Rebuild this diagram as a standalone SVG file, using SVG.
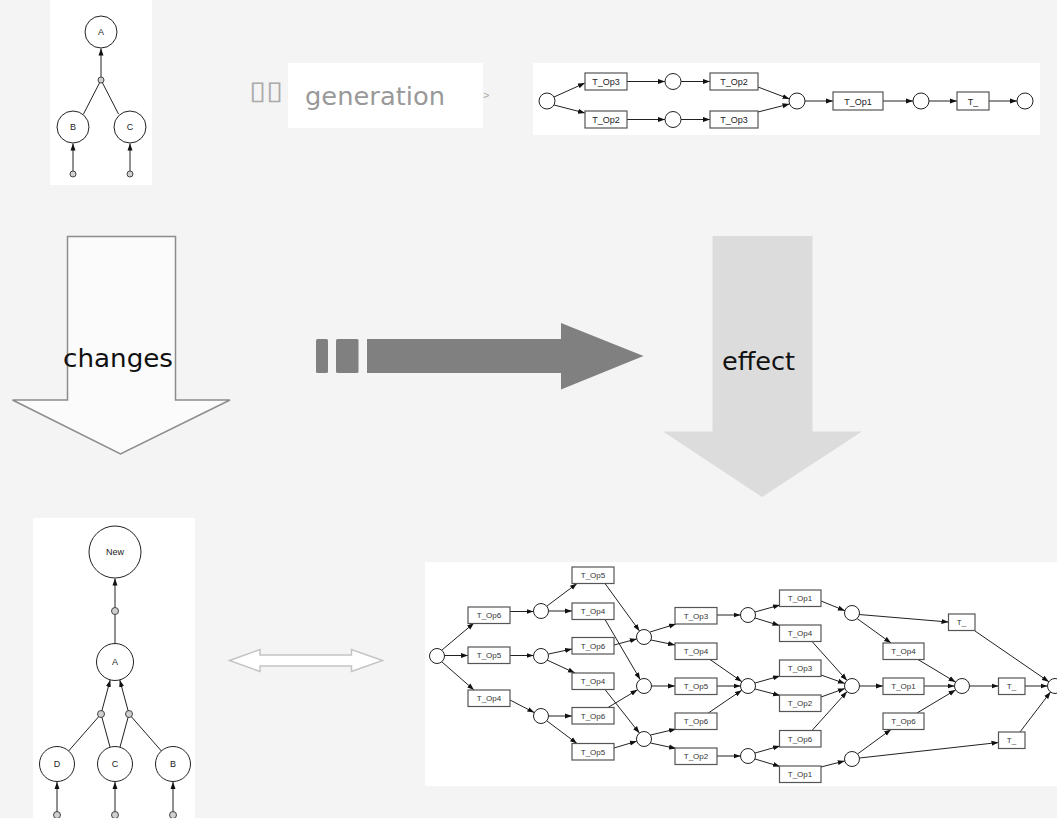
<svg xmlns="http://www.w3.org/2000/svg" width="1057" height="818" viewBox="0 0 1057 818">
<style>
.bg{fill:#f4f4f4}
.panel{fill:#ffffff}
.e{stroke:#222;stroke-width:1;fill:none}
.ea{stroke:#222;stroke-width:1;fill:none;marker-end:url(#ah)}
.pl{fill:#fff;stroke:#222;stroke-width:1}
.sm{fill:#d0d0d0;stroke:#333;stroke-width:0.9}
.tr{fill:#fff;stroke:#555;stroke-width:1.2}
.t9{font-family:"Liberation Sans",Arial,sans-serif;font-size:9px;fill:#222;text-anchor:middle}
.t8{font-family:"Liberation Sans",Arial,sans-serif;font-size:8px;fill:#333;text-anchor:middle}
.big{font-family:"DejaVu Sans",Verdana,sans-serif;font-size:24px;fill:#111}
</style>
<defs>
<marker id="ah" markerWidth="7" markerHeight="6" refX="7" refY="3" orient="auto" markerUnits="userSpaceOnUse"><path d="M0,0.5 L7,3 L0,5.5 z" fill="#111"/></marker>
</defs>
<rect class="bg" x="0" y="0" width="1057" height="818"/>

<!-- panels -->
<rect class="panel" x="50" y="0" width="102" height="185"/>
<rect class="panel" x="288" y="63" width="195" height="65"/>
<rect class="panel" x="533" y="63" width="507" height="72"/>
<rect class="panel" x="33" y="518" width="162" height="300"/>
<rect class="panel" x="425" y="562" width="632" height="224"/>

<!-- big arrows -->
<g id="changes">
<path d="M67.5,236.5 H175.5 V400 H230 L120.5,454 L12.5,400 H67.5 Z" fill="#fbfbfb" stroke="#8c8c8c" stroke-width="1.5"/>
<text class="big" x="63" y="367" textLength="110" lengthAdjust="spacingAndGlyphs">changes</text>
</g>
<g id="effect">
<path d="M712.5,236 H812.5 V431.5 H862 L762,497 L663,431.5 H712.5 Z" fill="#dcdcdc"/>
<text class="big" x="722" y="370" textLength="73" lengthAdjust="spacingAndGlyphs">effect</text>
</g>
<g id="dark-arrow" fill="#808080">
<rect x="316" y="339" width="12" height="34" rx="1.5"/>
<rect x="336" y="339" width="22.5" height="34" rx="1.5"/>
<path d="M367,339 H561 V323 L643.5,356 L561,389.5 V373 H367 Z"/>
</g>
<g id="double-arrow">
<path d="M229.5,660.5 L260,649.5 V655 H351.5 V649.5 L382.5,660.5 L351.5,671.5 V666 H260 V671.5 Z" fill="#fff" stroke="#c4c4c4" stroke-width="1.5"/>
</g>

<!-- generation label -->
<g id="generation">
<text x="249" y="99" font-family="'DejaVu Sans',sans-serif" font-size="26" fill="#aaaaaa" textLength="34" lengthAdjust="spacingAndGlyphs">▯▯</text>
<text x="305" y="105" font-family="'DejaVu Sans',Verdana,sans-serif" font-size="24" fill="#999999" textLength="140" lengthAdjust="spacingAndGlyphs">generation</text>
<text x="483" y="99" font-family="'Liberation Sans',Arial,sans-serif" font-size="11" fill="#aaaaaa">&gt;</text>
</g>

<!-- connectors -->
<g id="connectors">
<!-- top tree -->
<line class="ea" x1="101" y1="77" x2="101" y2="48.5"/>
<line class="e" x1="101" y1="80" x2="83.5" y2="114"/>
<line class="e" x1="101" y1="80" x2="118.5" y2="114"/>
<line class="ea" x1="73" y1="171" x2="73" y2="143.5"/>
<line class="ea" x1="130" y1="171" x2="130" y2="143.5"/>
<!-- top net -->
<line class="ea" x1="554" y1="97" x2="585" y2="83"/>
<line class="ea" x1="554" y1="105" x2="585" y2="113"/>
<line class="ea" x1="627" y1="81.5" x2="665" y2="81.5"/>
<line class="ea" x1="681" y1="81.5" x2="710" y2="81.5"/>
<line class="ea" x1="627" y1="119.5" x2="665" y2="119.5"/>
<line class="ea" x1="681" y1="119.5" x2="710" y2="119.5"/>
<line class="ea" x1="758" y1="87" x2="789.5" y2="99"/>
<line class="ea" x1="758" y1="112" x2="789.5" y2="104"/>
<line class="ea" x1="805" y1="101" x2="833" y2="101"/>
<line class="ea" x1="883" y1="101" x2="913" y2="101"/>
<line class="ea" x1="929" y1="101" x2="957" y2="101"/>
<line class="ea" x1="989" y1="101" x2="1017" y2="101"/>
<!-- bottom tree -->
<line class="ea" x1="115" y1="643.5" x2="115" y2="578.5"/>
<line class="ea" x1="101" y1="714" x2="110.2" y2="680"/>
<line class="ea" x1="129" y1="714" x2="119.8" y2="680"/>
<line class="e" x1="68.6" y1="751" x2="101" y2="714"/>
<line class="e" x1="110" y1="747" x2="101" y2="714"/>
<line class="e" x1="120" y1="747" x2="129" y2="714"/>
<line class="e" x1="161.4" y1="751" x2="129" y2="714"/>
<line class="ea" x1="57" y1="812" x2="57" y2="782"/>
<line class="ea" x1="115" y1="812" x2="115" y2="782"/>
<line class="ea" x1="173" y1="812" x2="173" y2="782"/>
<!-- bottom net -->
<line class="ea" x1="442" y1="650" x2="474" y2="623"/>
<line class="ea" x1="444.5" y1="655.5" x2="468" y2="655.5"/>
<line class="ea" x1="442" y1="662" x2="474" y2="690"/>
<line class="ea" x1="510" y1="611.5" x2="533.5" y2="611.5"/>
<line class="ea" x1="510" y1="655.5" x2="533.5" y2="655.5"/>
<line class="ea" x1="510" y1="700" x2="534.3" y2="712.6"/>
<line class="ea" x1="547" y1="606" x2="577" y2="583.5"/>
<line class="ea" x1="548.5" y1="611" x2="572" y2="611"/>
<line class="ea" x1="548.5" y1="654" x2="572" y2="649"/>
<line class="ea" x1="547" y1="660" x2="575" y2="673"/>
<line class="ea" x1="548.5" y1="716" x2="572" y2="716"/>
<line class="ea" x1="547" y1="721" x2="577" y2="743.5"/>
<line class="ea" x1="605" y1="583.5" x2="639.5" y2="631"/>
<line class="ea" x1="605" y1="619.5" x2="640.2" y2="679.5"/>
<line class="ea" x1="614" y1="645" x2="636.8" y2="638.9"/>
<line class="ea" x1="605" y1="689.5" x2="639.4" y2="733.1"/>
<line class="ea" x1="608" y1="707.5" x2="637.5" y2="689.8"/>
<line class="ea" x1="614" y1="748" x2="636.8" y2="741.2"/>
<line class="ea" x1="650" y1="632" x2="676" y2="624"/>
<line class="ea" x1="651" y1="640" x2="675" y2="645"/>
<line class="ea" x1="651.5" y1="686" x2="675" y2="686"/>
<line class="ea" x1="650.5" y1="735" x2="676" y2="729"/>
<line class="ea" x1="650.5" y1="743" x2="676" y2="748.5"/>
<line class="ea" x1="717" y1="615" x2="740.5" y2="615"/>
<line class="ea" x1="710" y1="659.5" x2="741.9" y2="681.7"/>
<line class="ea" x1="717" y1="686" x2="740.5" y2="686"/>
<line class="ea" x1="708.3" y1="713" x2="741.8" y2="690.2"/>
<line class="ea" x1="717" y1="756" x2="740.5" y2="756"/>
<line class="ea" x1="755" y1="612" x2="780" y2="605"/>
<line class="ea" x1="755" y1="618" x2="779.5" y2="625.5"/>
<line class="ea" x1="755" y1="683" x2="780" y2="676"/>
<line class="ea" x1="755" y1="689" x2="780" y2="695.5"/>
<line class="ea" x1="755" y1="753" x2="780" y2="746"/>
<line class="ea" x1="755" y1="759" x2="780" y2="766.5"/>
<line class="ea" x1="821" y1="601" x2="844.9" y2="610.7"/>
<line class="ea" x1="812" y1="641.5" x2="847" y2="680.5"/>
<line class="ea" x1="821" y1="675" x2="844.9" y2="683.5"/>
<line class="ea" x1="821" y1="697" x2="844.9" y2="688.5"/>
<line class="ea" x1="812" y1="730.5" x2="847" y2="691.6"/>
<line class="ea" x1="821" y1="767" x2="844.7" y2="760.9"/>
<line class="ea" x1="859" y1="614.5" x2="948.5" y2="622"/>
<line class="ea" x1="857" y1="618.5" x2="891" y2="643"/>
<line class="ea" x1="859.5" y1="686" x2="883" y2="686"/>
<line class="ea" x1="857.5" y1="754" x2="891" y2="729.5"/>
<line class="ea" x1="859.5" y1="758" x2="998.5" y2="742.5"/>
<line class="ea" x1="918" y1="659.5" x2="955.6" y2="682.1"/>
<line class="ea" x1="924" y1="686" x2="954.5" y2="686"/>
<line class="ea" x1="917" y1="713" x2="955.6" y2="689.9"/>
<line class="ea" x1="969.5" y1="686" x2="998.5" y2="686"/>
<line class="ea" x1="975" y1="631" x2="1048.8" y2="681.7"/>
<line class="ea" x1="1025" y1="686" x2="1047.5" y2="686"/>
<line class="ea" x1="1020" y1="732" x2="1050.5" y2="692"/>
</g>

<!-- top tree nodes -->
<g id="t1-A"><circle class="pl" cx="101" cy="32" r="16"/><text class="t9" x="101" y="35">A</text></g>
<g id="t1-j"><circle class="sm" cx="101" cy="80" r="3"/></g>
<g id="t1-B"><circle class="pl" cx="73" cy="127" r="16"/><text class="t9" x="73" y="130">B</text></g>
<g id="t1-C"><circle class="pl" cx="130" cy="127" r="16"/><text class="t9" x="130" y="130">C</text></g>
<g id="t1-b1"><circle class="sm" cx="73" cy="174" r="3"/></g>
<g id="t1-b2"><circle class="sm" cx="130" cy="174" r="3"/></g>

<!-- top net nodes -->
<g id="n1-p0"><circle class="pl" cx="547" cy="101" r="8"/></g>
<g id="n1-t1"><rect class="tr" x="585" y="73" width="42" height="17"/><text class="t9" x="606" y="85">T_Op3</text></g>
<g id="n1-t2"><rect class="tr" x="585" y="111" width="42" height="17"/><text class="t9" x="606" y="123">T_Op2</text></g>
<g id="n1-p1"><circle class="pl" cx="673" cy="81.5" r="8"/></g>
<g id="n1-p2"><circle class="pl" cx="673" cy="119.5" r="8"/></g>
<g id="n1-t3"><rect class="tr" x="710" y="73" width="48" height="17"/><text class="t9" x="734" y="85">T_Op2</text></g>
<g id="n1-t4"><rect class="tr" x="710" y="111" width="48" height="17"/><text class="t9" x="734" y="123">T_Op3</text></g>
<g id="n1-p3"><circle class="pl" cx="797" cy="101" r="8"/></g>
<g id="n1-t5"><rect class="tr" x="833" y="92" width="50" height="18"/><text class="t9" x="858" y="104.5">T_Op1</text></g>
<g id="n1-p4"><circle class="pl" cx="921" cy="101" r="8"/></g>
<g id="n1-t6"><rect class="tr" x="957" y="92" width="32" height="18"/><text class="t9" x="973" y="104.5">T_</text></g>
<g id="n1-p5"><circle class="pl" cx="1025" cy="101" r="8"/></g>

<!-- bottom tree nodes -->
<g id="t2-New"><circle class="pl" cx="115" cy="552" r="26"/><text class="t9" x="115" y="555">New</text></g>
<g id="t2-j0"><circle class="sm" cx="115" cy="611" r="3.5"/></g>
<g id="t2-A"><circle class="pl" cx="115" cy="662" r="18.5"/><text class="t9" x="115" y="665">A</text></g>
<g id="t2-j1"><circle class="sm" cx="101" cy="714" r="3.5"/></g>
<g id="t2-j2"><circle class="sm" cx="129" cy="714" r="3.5"/></g>
<g id="t2-D"><circle class="pl" cx="57" cy="764" r="17.5"/><text class="t9" x="57" y="767">D</text></g>
<g id="t2-C"><circle class="pl" cx="115" cy="764" r="17.5"/><text class="t9" x="115" y="767">C</text></g>
<g id="t2-B"><circle class="pl" cx="173" cy="764" r="17.5"/><text class="t9" x="173" y="767">B</text></g>
<g id="t2-b1"><circle class="sm" cx="57" cy="815" r="3.5"/></g>
<g id="t2-b2"><circle class="sm" cx="115" cy="815" r="3.5"/></g>
<g id="t2-b3"><circle class="sm" cx="173" cy="815" r="3.5"/></g>

<!-- bottom net nodes -->
<g id="n2-P0"><circle class="pl" cx="437" cy="656" r="7.5"/></g>
<g id="n2-A6"><rect class="tr" x="468" y="607" width="42" height="16.5"/><text class="t8" x="489" y="618">T_Op6</text></g>
<g id="n2-A5"><rect class="tr" x="468" y="647" width="42" height="16.5"/><text class="t8" x="489" y="658">T_Op5</text></g>
<g id="n2-A4"><rect class="tr" x="468" y="690" width="42" height="16.5"/><text class="t8" x="489" y="701">T_Op4</text></g>
<g id="n2-P1"><circle class="pl" cx="541" cy="611" r="7.5"/></g>
<g id="n2-P2"><circle class="pl" cx="541" cy="656" r="7.5"/></g>
<g id="n2-P3"><circle class="pl" cx="541" cy="716" r="7.5"/></g>
<g id="n2-B1"><rect class="tr" x="572" y="567" width="42" height="16.5"/><text class="t8" x="593" y="578">T_Op5</text></g>
<g id="n2-B2"><rect class="tr" x="572" y="603" width="42" height="16.5"/><text class="t8" x="593" y="614">T_Op4</text></g>
<g id="n2-B3"><rect class="tr" x="572" y="637.5" width="42" height="16.5"/><text class="t8" x="593" y="648.5">T_Op6</text></g>
<g id="n2-B4"><rect class="tr" x="572" y="673" width="42" height="16.5"/><text class="t8" x="593" y="684">T_Op4</text></g>
<g id="n2-B5"><rect class="tr" x="572" y="707.5" width="42" height="16.5"/><text class="t8" x="593" y="718.5">T_Op6</text></g>
<g id="n2-B6"><rect class="tr" x="572" y="743.5" width="42" height="16.5"/><text class="t8" x="593" y="754.5">T_Op5</text></g>
<g id="n2-Q1"><circle class="pl" cx="644" cy="637" r="7.5"/></g>
<g id="n2-Q2"><circle class="pl" cx="644" cy="686" r="7.5"/></g>
<g id="n2-Q3"><circle class="pl" cx="644" cy="739" r="7.5"/></g>
<g id="n2-C1"><rect class="tr" x="675" y="607.5" width="42" height="16.5"/><text class="t8" x="696" y="618.5">T_Op3</text></g>
<g id="n2-C2"><rect class="tr" x="675" y="643" width="42" height="16.5"/><text class="t8" x="696" y="654">T_Op4</text></g>
<g id="n2-C3"><rect class="tr" x="675" y="678" width="42" height="16.5"/><text class="t8" x="696" y="689">T_Op5</text></g>
<g id="n2-C4"><rect class="tr" x="675" y="713" width="42" height="16.5"/><text class="t8" x="696" y="724">T_Op6</text></g>
<g id="n2-C5"><rect class="tr" x="675" y="748" width="42" height="16.5"/><text class="t8" x="696" y="759">T_Op2</text></g>
<g id="n2-R1"><circle class="pl" cx="748" cy="615" r="7.5"/></g>
<g id="n2-R2"><circle class="pl" cx="748" cy="686" r="7.5"/></g>
<g id="n2-R3"><circle class="pl" cx="748" cy="756" r="7.5"/></g>
<g id="n2-D1"><rect class="tr" x="779.5" y="590" width="41.5" height="16.5"/><text class="t8" x="800" y="601">T_Op1</text></g>
<g id="n2-D2"><rect class="tr" x="779.5" y="625" width="41.5" height="16.5"/><text class="t8" x="800" y="636">T_Op4</text></g>
<g id="n2-D3"><rect class="tr" x="779.5" y="660" width="41.5" height="16.5"/><text class="t8" x="800" y="671">T_Op3</text></g>
<g id="n2-D4"><rect class="tr" x="779.5" y="695" width="41.5" height="16.5"/><text class="t8" x="800" y="706">T_Op2</text></g>
<g id="n2-D5"><rect class="tr" x="779.5" y="730.5" width="41.5" height="16.5"/><text class="t8" x="800" y="741.5">T_Op6</text></g>
<g id="n2-D6"><rect class="tr" x="779.5" y="766" width="41.5" height="16.5"/><text class="t8" x="800" y="777">T_Op1</text></g>
<g id="n2-S1"><circle class="pl" cx="852" cy="613" r="7.5"/></g>
<g id="n2-S2"><circle class="pl" cx="852" cy="686" r="7.5"/></g>
<g id="n2-S3"><circle class="pl" cx="852" cy="759" r="7.5"/></g>
<g id="n2-E1"><rect class="tr" x="948.5" y="614" width="26.5" height="16.5"/><text class="t8" x="961.5" y="625">T_</text></g>
<g id="n2-E2"><rect class="tr" x="883" y="643" width="41" height="16.5"/><text class="t8" x="903.5" y="654">T_Op4</text></g>
<g id="n2-E3"><rect class="tr" x="883" y="678" width="41" height="16.5"/><text class="t8" x="903.5" y="689">T_Op1</text></g>
<g id="n2-E4"><rect class="tr" x="883" y="713" width="41" height="16.5"/><text class="t8" x="903.5" y="724">T_Op6</text></g>
<g id="n2-U"><circle class="pl" cx="962" cy="686" r="7.5"/></g>
<g id="n2-F1"><rect class="tr" x="998.5" y="678" width="26.5" height="16.5"/><text class="t8" x="1011.5" y="689">T_</text></g>
<g id="n2-F2"><rect class="tr" x="998.5" y="732" width="26.5" height="16.5"/><text class="t8" x="1011.5" y="743">T_</text></g>
<g id="n2-End"><circle class="pl" cx="1055" cy="686" r="7.5"/></g>
</svg>
